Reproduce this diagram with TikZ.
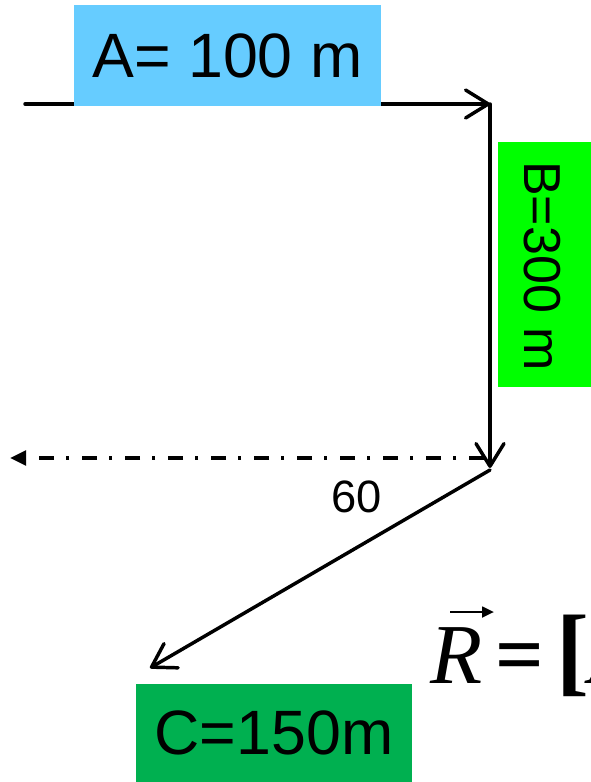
\documentclass[tikz,border=0pt]{standalone}
\usepackage{fontspec}
\setmainfont{Liberation Sans}
\newfontfamily\timesfont{Liberation Serif}
\usetikzlibrary{arrows.meta}
\definecolor{boxblue}{RGB}{102,204,255}
\definecolor{boxlime}{RGB}{0,255,0}
\definecolor{boxgreen}{RGB}{0,176,80}

\begin{document}
\begin{tikzpicture}[x=0.75pt,y=-0.75pt,
  vec/.style={line width=2.6pt,line cap=round,-{Straight Barb[length=17pt,width=21pt,round]}},
  refline/.style={line width=2.6pt,dash pattern=on 11.25pt off 9.75pt on 2.25pt off 9pt,-{Triangle[length=12pt,width=11pt]}},
  lbl/.style={minimum width=207pt,minimum height=75pt,inner sep=0pt,font=\fontsize{47}{47}\selectfont}]
\useasboundingbox (0,0) rectangle (591,782);
% path corners
\coordinate (a0) at (25,104);
\coordinate (a1) at (490,104);
\coordinate (b1) at (490,468);
\coordinate (c0) at (490,470);
\coordinate (c1) at (150,668);
\coordinate (h0) at (484,458);
\coordinate (h1) at (10,458);
\draw[vec] (a0) -- (a1);
\draw[vec] (a1) -- (b1);
\draw[vec] (c0) -- (c1);
\draw[refline] (h0) -- (h1);
% labels
\node[lbl,fill=boxblue,minimum width=230.25pt,minimum height=75.75pt] (alabel) at (227.5,55.5) {A= 100 m};
\fill[boxlime] (498,142) rectangle (600,387);
\node[rotate=-90,inner sep=0pt,font=\fontsize{39}{39}\selectfont] (blabel) at (542,266) {B=300 m};
\node[lbl,fill=boxgreen,minimum height=73.5pt] (clabel) at (274,733) {C=150m};
\node[inner sep=0pt,font=\fontsize{34}{34}\selectfont] (angle) at (357,497) {60};
\node[anchor=base west,inner sep=0pt,font=\timesfont\fontsize{64}{64}\selectfont] (result) at (430,683)
  {{\itshape R}\kern10pt{\bfseries=\kern9pt{\fontsize{74}{74}\selectfont[}}{\itshape A}};
% vector arrow over R
\coordinate (r0) at (450,612);
\coordinate (r1) at (494,612);
\draw[line width=2pt,-{Triangle[length=9pt,width=8pt]}] (r0) -- (r1);
\end{tikzpicture}
\end{document}
